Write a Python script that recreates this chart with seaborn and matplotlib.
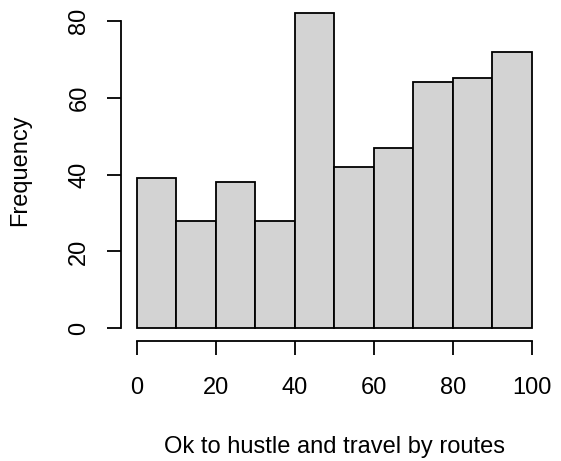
import numpy as np
import pandas as pd
import matplotlib
matplotlib.use("Agg")
import matplotlib.pyplot as plt
import seaborn as sns

# histogram data
bin_edges = [0, 10, 20, 30, 40, 50, 60, 70, 80, 90, 100]
counts = [39, 28, 38, 28, 82, 42, 47, 64, 65, 72]
x_ticks = [0, 20, 40, 60, 80, 100]
y_ticks = [0, 20, 40, 60, 80]

fs = 17
plt.rcParams['font.family'] = ['Liberation Sans', 'DejaVu Sans']
plt.rcParams['font.size'] = fs

df = pd.DataFrame({
    "mid": [(a + b) / 2 for a, b in zip(bin_edges[:-1], bin_edges[1:])],
    "count": counts,
})

fig = plt.figure(figsize=(5.61, 4.61), dpi=100)
ax = fig.add_axes([0.2155, 0.2605, 0.976 - 0.2155, 0.999 - 0.2605])

sns.histplot(data=df, x="mid", weights="count", bins=bin_edges, ax=ax,
             color="#D3D3D3", alpha=1, edgecolor="black", linewidth=1.3)

# R-style axis range: data range padded by 4%
ax.set_xlim(-4, 104)
ax.set_ylim(-0.04 * 82, 82 * 1.04)

for s in ["top", "right"]:
    ax.spines[s].set_visible(False)
ax.spines["left"].set_bounds(0, 80)
ax.spines["bottom"].set_bounds(0, 100)
for s in ["left", "bottom"]:
    ax.spines[s].set_linewidth(1.3)

ax.set_xticks(x_ticks)
ax.set_yticks(y_ticks)
ax.tick_params(axis="both", length=10, width=1.3, labelsize=fs)
ax.tick_params(axis="x", pad=16)
ax.tick_params(axis="y", pad=12)
for lab in ax.get_yticklabels():
    lab.set_rotation(90)
    lab.set_va("center")

ax.set_xlabel("Ok to hustle and travel by routes", fontsize=fs, va="center")
ax.set_ylabel("Frequency", fontsize=fs, va="center")
ax.xaxis.set_label_coords(0.5, -0.312)
ax.yaxis.set_label_coords(-0.2365, 0.5)

fig.savefig("out.png", dpi=100)
